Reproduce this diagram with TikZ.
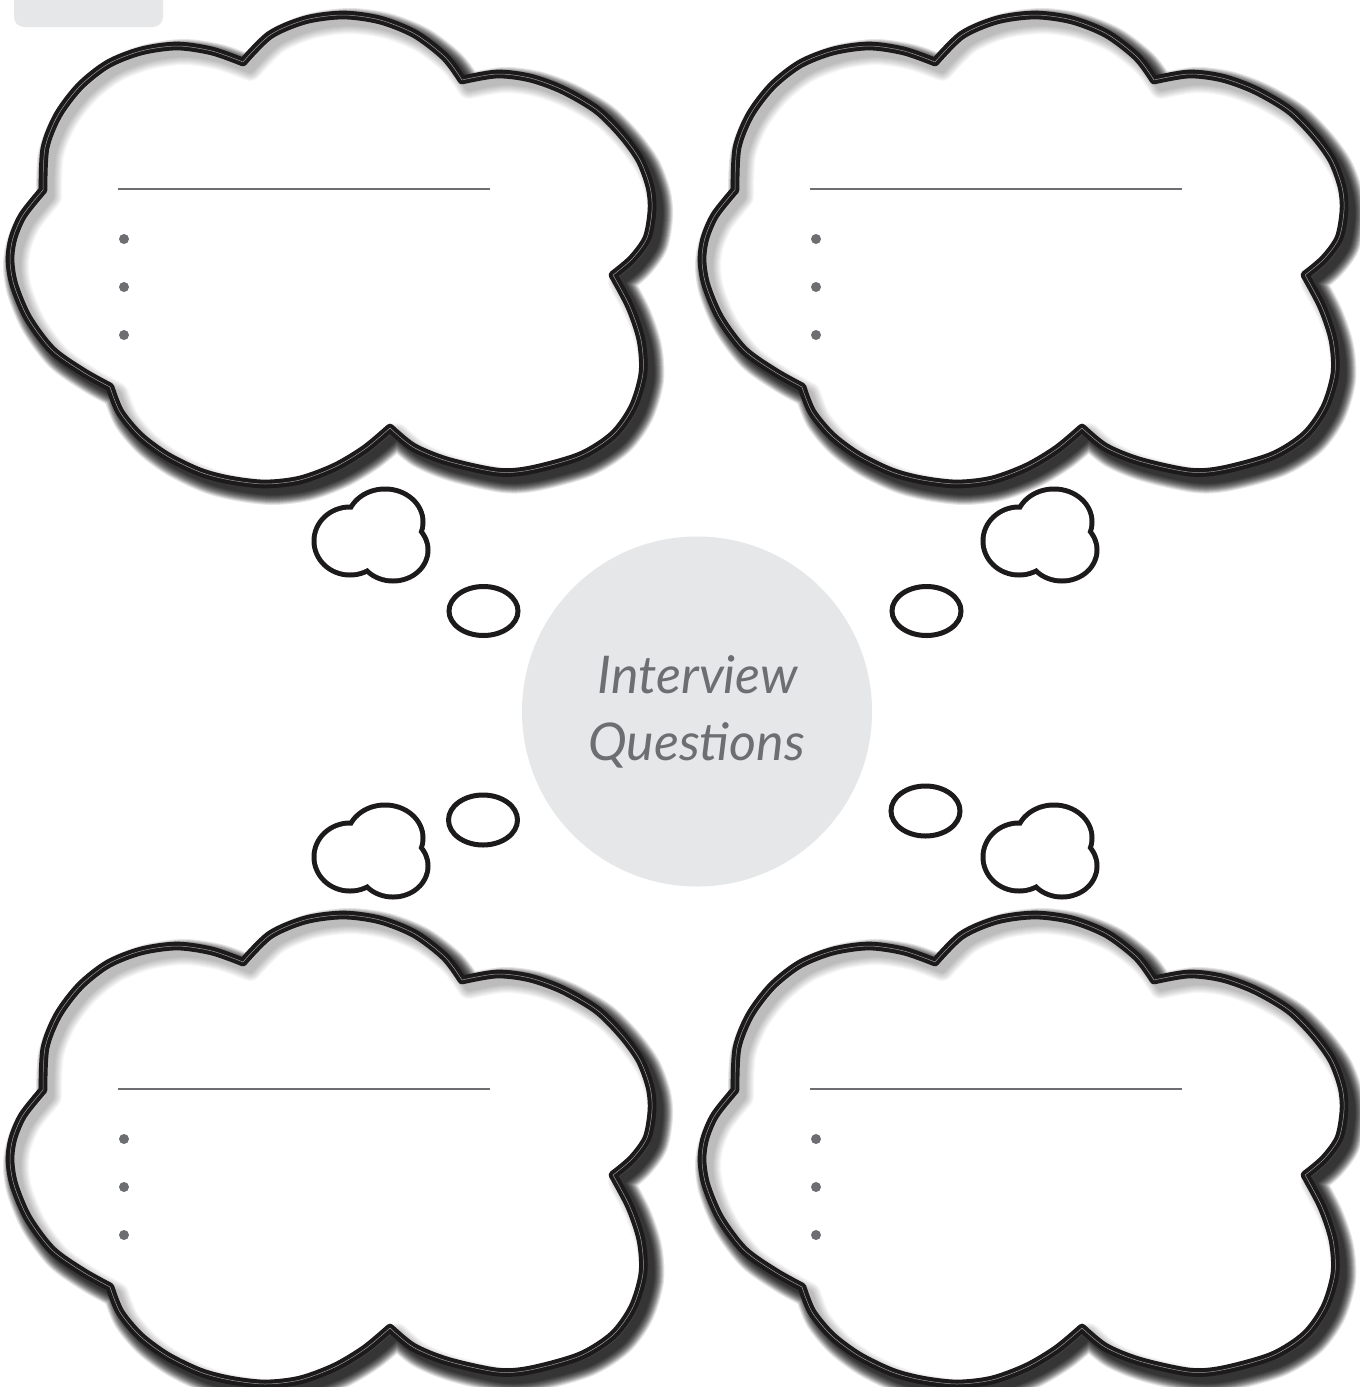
\documentclass[tikz,border=0pt]{standalone}
\usepackage{fontspec}
\newfontfamily\handfont{Lato}
\definecolor{ink}{HTML}{1C1A1B}
\definecolor{softgrey}{HTML}{E6E7E8}
\definecolor{textgrey}{HTML}{6D6E71}
\definecolor{midline}{HTML}{9A9A9A}
\newcommand{\cloudpath}[1]{%
\path[#1] (43,190)
 -- plot[smooth] coordinates {(43,190) (45,148) (58,115) (80,86) (108,64) (141,51) (177,46) (212,51) (243,62)}
 -- plot[smooth] coordinates {(243,62) (270,35) (305,20) (343,15) (380,20) (415,34) (445,57) (462,80)}
 -- plot[smooth] coordinates {(462,80) (497,74) (530,78) (563,90) (597,110) (622,135) (640,160) (650,187) (652,210) (647,238) (632,259) (613,275)}
 -- plot[smooth] coordinates {(613,275) (630,307) (641,340) (643,373) (633,407) (613,435) (580,456) (530,470) (497,472) (447,461) (413,447) (390,428)}
 -- plot[smooth] coordinates {(390,428) (365,449) (335,467) (300,480) (265,484) (230,480) (200,472) (167,456) (140,436) (120,412) (110,387)}
 -- plot[smooth] coordinates {(110,387) (83,372) (52,350) (28,318) (14,285) (10,260) (13,238) (23,215) (43,190)}
 -- cycle;}
\newcommand{\bigcloud}[2]{%
\begin{scope}[shift={(#1,#2)}]
  \begin{scope}[shift={(7,7)}]
    \foreach \w in {4,5,...,14} {\cloudpath{draw=black, line width=\w pt, draw opacity=0.1, line join=round}}
  \end{scope}
  \cloudpath{fill=white}
  \begin{scope}[shift={(7,7)}]
    \foreach \w in {4,5,...,12} {\cloudpath{draw=black, line width=\w pt, draw opacity=0.03, line join=round}}
  \end{scope}
  \cloudpath{draw=ink, line width=2.05pt, double=midline, double distance=0.25pt, line join=round}
  \draw[textgrey, line width=1.3pt] (118,189) -- (490,189);
  \fill[textgrey] (124,239) circle[radius=5] (124,287) circle[radius=5] (124,335) circle[radius=5];
\end{scope}}
\newcommand{\smallcloud}[2]{%
\begin{scope}[shift={(#1,#2)}]
  \fill[ink] (350,541) ellipse[x radius=38.5, y radius=36.5] (385,522) ellipse[x radius=40.5, y radius=35.5] (393,550) ellipse[x radius=37.5, y radius=33.5];
  \fill[white] (350,541) ellipse[x radius=33.5, y radius=31.5] (385,522) ellipse[x radius=35.5, y radius=30.5] (393,550) ellipse[x radius=32.5, y radius=28.5];
\end{scope}}
\begin{document}
\begin{tikzpicture}[x=0.5pt, y=-0.5pt,
  bubble/.style={draw=ink, line width=2.5pt},
  title/.style={anchor=base, text=textgrey, inner sep=0pt, font=\handfont\itshape\fontsize{26}{30}\selectfont}]
\useasboundingbox (0,0) rectangle (1360,1387);
\fill[white] (0,0) rectangle (1360,1387);
% tab at top left
\fill[softgrey, rounded corners=5pt] (14,-30) rectangle (163,27);
% big clouds
\bigcloud{0}{0}
\bigcloud{692}{0}
\bigcloud{0}{900}
\bigcloud{692}{900}
% small thought bubbles
\smallcloud{0}{0}
\smallcloud{669}{0}
\smallcloud{0}{316}
\smallcloud{669}{316}
\draw[bubble] (483.5,611) ellipse[x radius=34.5, y radius=24.5];
\draw[bubble] (926.5,611) ellipse[x radius=34.5, y radius=24.5];
\draw[bubble] (483,820) ellipse[x radius=34.5, y radius=25];
\draw[bubble] (925.5,811) ellipse[x radius=34.5, y radius=25];
% centre
\fill[softgrey] (697,711.5) circle[radius=175];
\node[title] (t1) at (698,693) {Interview};
\node[title] (t2) at (696.5,760) {Questions};
\end{tikzpicture}
\end{document}
